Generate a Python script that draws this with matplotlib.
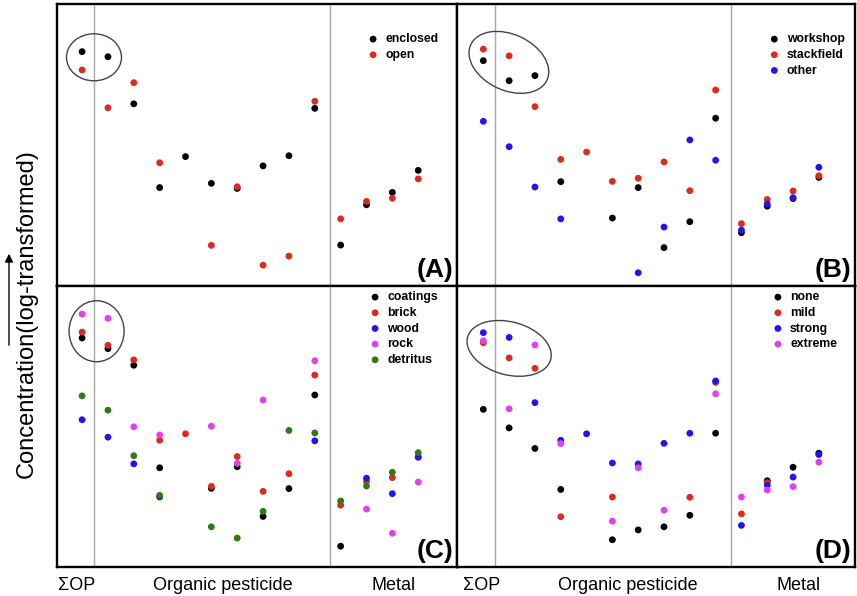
import numpy as np
import matplotlib
matplotlib.use("Agg")
import matplotlib.pyplot as plt
from matplotlib.patches import Ellipse
from matplotlib.transforms import ScaledTranslation

plt.rcParams['font.family'] = ['Liberation Sans', 'DejaVu Sans']

nan = np.nan
# compound index: 0 = sum of OPs, 1-9 = organic pesticides, 10-13 = metals
compounds = np.arange(14)

# (A) enclosed vs open
enclosed = [83.1, 81.3, 64.6, 34.9, 45.9, 36.4, 34.6, 42.6, 46.2, 63.0, 14.5, 28.8, 33.2, 41.0]
open_ = [76.6, 63.2, 72.1, 43.7, nan, 14.4, 35.2, 7.4, 10.6, 65.5, 23.8, 30.0, 31.1, 38.0]

# (B) workshop / stackfield / other
workshop = [79.9, 72.8, 74.6, 37.0, nan, 24.1, 34.9, 13.6, 22.8, 59.5, 18.9, 28.3, 31.0, 38.5]
stackfield = [84.0, 81.6, 63.6, 44.9, 47.5, 37.1, 38.2, 44.0, 33.8, 69.5, 22.1, 30.7, 33.7, 39.1]
other = [58.4, 49.4, 35.1, 23.8, nan, nan, 4.7, 20.9, 51.8, 44.6, 19.8, 29.1, 31.3, 42.1]

# (C) sampled material
coatings = [81.5, 77.7, 71.8, 35.3, nan, 28.0, 35.7, 18.0, 27.9, 61.2, 7.4, nan, nan, nan]
brick = [83.6, 78.9, 73.7, 45.1, 47.4, 28.7, 39.3, 26.9, 33.2, 68.3, 22.0, 30.4, 31.8, 39.0]
wood = [52.4, 46.2, 36.7, 24.9, nan, nan, nan, nan, nan, 44.9, nan, 31.6, 26.1, 39.2]
rock = [90.0, 88.5, 49.9, 47.0, nan, 50.1, 36.9, 59.4, nan, 73.4, nan, 20.6, 12.0, 30.2]
detritus = [60.9, 55.8, 39.6, 25.5, nan, 14.3, 10.3, 19.8, 48.6, 47.7, 23.5, 28.8, 33.7, 40.7]

# (D) degree of weathering
none_ = [56.1, 49.5, 42.2, 27.6, nan, 9.7, 13.2, 14.3, 18.4, 47.6, nan, 30.7, 35.5, 40.5]
mild = [79.8, 74.4, 70.7, 17.9, nan, 24.9, nan, nan, 24.8, 65.7, 18.9, 30.0, nan, nan]
strong = [83.4, 81.7, 58.5, 45.1, 47.4, 37.0, 36.7, 44.0, 47.6, 66.2, 14.8, 29.1, 32.0, 40.0]
extreme = [80.5, 56.3, 79.0, 43.9, nan, 16.3, 35.3, 20.2, nan, 61.6, 24.9, 27.4, 28.6, 37.3]

BLACK = '#000000'
RED = '#dc2a1c'
BLUE = '#2414f5'
MAGENTA = '#e040f2'
GREEN = '#2f7a14'

panels = [
    ('(A)', [('enclosed', enclosed, BLACK), ('open', open_, RED)]),
    ('(B)', [('workshop', workshop, BLACK), ('stackfield', stackfield, RED), ('other', other, BLUE)]),
    ('(C)', [('coatings', coatings, BLACK), ('brick', brick, RED), ('wood', wood, BLUE),
             ('rock', rock, MAGENTA), ('detritus', detritus, GREEN)]),
    ('(D)', [('none', none_, BLACK), ('mild', mild, RED), ('strong', strong, BLUE),
             ('extreme', extreme, MAGENTA)]),
]

# axes rectangles in pixels: left, top, right, bottom
W, H = 857, 596
boxes = [(57, 4, 457, 286), (457, 4, 855, 286), (57, 286, 457, 567), (457, 286, 855, 567)]
xlims = [(-0.97, 14.5), (-1.02, 14.4), (-0.97, 14.5), (-1.02, 14.4)]
leg_anchor = [(0.778, 0.896), (0.785, 0.896), (0.783, 0.981), (0.794, 0.981)]
# circled sum-of-OP groups: centre (data), width/height (inches), angle
ellipses = [((0.46, 81.1), 0.55, 0.47, 0),
            ((0.99, 79.3), 0.84, 0.56, -25),
            ((0.56, 83.9), 0.55, 0.61, 0),
            ((1.0, 77.8), 0.86, 0.53, -15)]

fig = plt.figure(figsize=(W / 100, H / 100), dpi=100)

for i, (tag, series) in enumerate(panels):
    l, t, r, b = boxes[i]
    ax = fig.add_axes([l / W, 1 - b / H, (r - l) / W, (b - t) / H])
    ax.set_xlim(*xlims[i])
    ax.set_ylim(0, 100)
    ax.set_xticks([])
    ax.set_yticks([])
    for sp in ax.spines.values():
        sp.set_linewidth(1.7)
        sp.set_color('black')
    for xv in (0.45, 9.58):
        ax.axvline(xv, color='#a8a8a8', lw=1.0, zorder=1)

    for name, vals, col in series:
        ax.scatter(compounds, vals, s=24, color=col, edgecolors='none', label=name, zorder=3)

    (cx, cy), ew, eh, ang = ellipses[i]
    ell = Ellipse((0, 0), ew, eh, angle=ang, fill=False, ec='#444444', lw=1.0,
                  transform=fig.dpi_scale_trans + ScaledTranslation(cx, cy, ax.transData))
    ax.add_patch(ell)

    ax.legend(loc='upper left', bbox_to_anchor=leg_anchor[i], frameon=False,
              prop={'size': 8.8, 'weight': 'bold'}, handlelength=0.8, handletextpad=0.6,
              labelspacing=0.3, borderpad=0, borderaxespad=0, scatterpoints=1)

    ax.text(0.99, 0.015, tag, transform=ax.transAxes, ha='right', va='bottom',
            fontsize=19, fontweight='bold')

# group labels under the bottom row
for xc, lab in [(76.7, 'ΣOP'), (222.5, 'Organic pesticide'), (394, 'Metal'),
                (481.5, 'ΣOP'), (627.5, 'Organic pesticide'), (799, 'Metal')]:
    fig.text(xc / W, 1 - 585.5 / H, lab, ha='center', va='center', fontsize=13)

fig.text(27 / W, 1 - 314 / H, 'Concentration(log-transformed)', rotation=90,
         ha='center', va='center', fontsize=17)
fig.add_artist(plt.Annotation('', xy=(9 / W, 1 - 251 / H), xytext=(9 / W, 1 - 348 / H),
                              xycoords='figure fraction',
                              arrowprops=dict(arrowstyle='-|>', color='black', lw=1.0,
                                              mutation_scale=12)))

fig.savefig('out.png', dpi=100)
